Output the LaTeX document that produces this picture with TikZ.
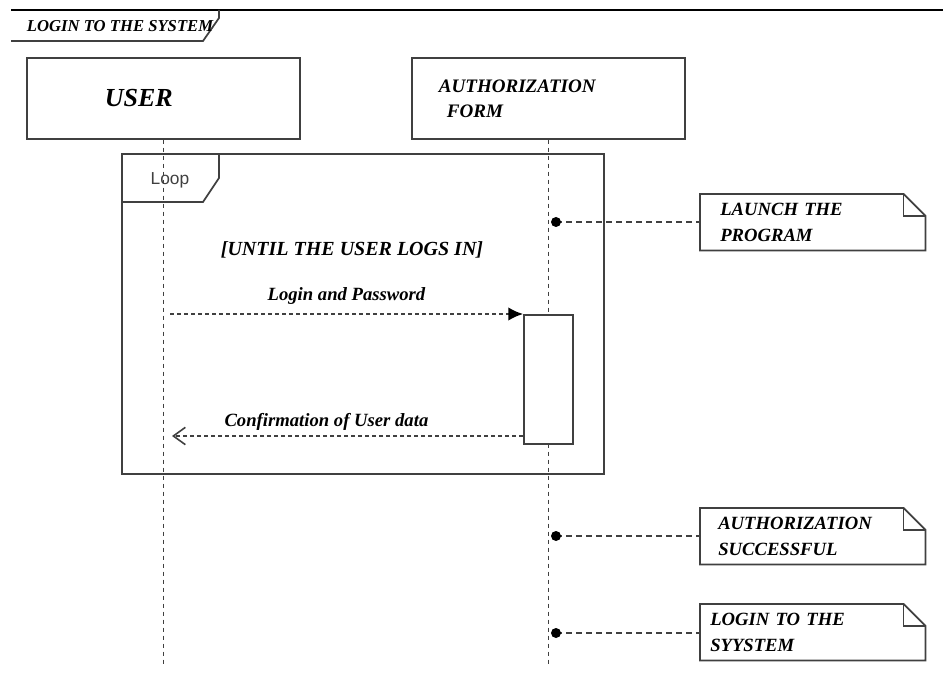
\documentclass[tikz,border=0pt]{standalone}
\usepackage{fontspec}
\setmainfont{Liberation Serif}
\setsansfont{Liberation Sans}
\usepackage{tikz}
\usetikzlibrary{arrows.meta,positioning,calc}

\tikzset{
    lifebox/.style={draw=black!75, line width=1.3pt, anchor=north west,
        minimum width=204.75pt, minimum height=60.75pt, align=left},
    notebox/.style={anchor=north west, minimum height=42pt, align=left,
        font=\bfseries\itshape\fontsize{14}{20}\selectfont},
    actbox/.style={draw=black!75, line width=1.3pt, fill=white, anchor=north west,
        minimum width=36.75pt, minimum height=96.75pt, inner sep=0pt},
    frameline/.style={draw=black!75, line width=1.3pt},
    noteline/.style={draw=black!75, line width=1.3pt},
    lifeline/.style={draw=black!75, line width=1.1pt, dash pattern=on 3.5pt off 2.5pt},
    msgline/.style={draw=black!75, line width=1.1pt, dash pattern=on 3pt off 2.25pt},
    noteconn/.style={draw=black!75, line width=1.2pt, dash pattern=on 4.5pt off 3pt},
    msgtext/.style={font=\bfseries\itshape\fontsize{14}{17}\selectfont}
}

\begin{document}
\begin{tikzpicture}[x=0.75pt, y=-0.75pt]
    \useasboundingbox (0,0) rectangle (943,695);

    % Define parameters of the lifelines
    \def\lifeend{667}
    \def\fold{16.5pt}

    % Draw frame of the diagram
    \draw[frameline, draw=black] (11,10) -- (943,10);
    \draw[frameline] (219,10) -- (219,18) -- (203,41) -- (11,41);
    \node[font=\bfseries\itshape\fontsize{12.5}{15}\selectfont] (title) at (120,26) {LOGIN TO THE SYSTEM};

    % Draw heads of the lifelines
    \node[lifebox, inner xsep=58.5pt, text width=87.75pt,
          font=\bfseries\itshape\fontsize{19.5}{22}\selectfont] (user) at (26,57) {USER};
    \node[lifebox, inner xsep=20.25pt, text width=164.25pt,
          font=\bfseries\itshape\fontsize{14.3}{18.75}\selectfont] (auth) at (411,57)
          {AUTHORIZATION\\\hspace*{6pt}FORM};

    % Draw lifelines
    \coordinate (userend) at (user.south |- 0,\lifeend);
    \coordinate (authend) at (auth.south |- 0,\lifeend);
    \draw[lifeline] (user.south) -- (userend);
    \draw[lifeline] (auth.south) -- (authend);

    % Draw loop fragment
    \draw[frameline] (122,154) rectangle (604,474);
    \draw[frameline] (219,154) -- (219,178) -- (203,202) -- (122,202);
    \node[font=\sffamily\fontsize{13}{15}\selectfont, text=black!75] (looplabel) at (170,180) {Loop};
    \node[msgtext, font=\bfseries\itshape\fontsize{15}{17}\selectfont] (guard) at (352,250) {[UNTIL THE USER LOGS IN]};

    % Draw activation of the form
    \node[actbox] (act) at (523,314) {};

    % Draw messages
    \coordinate (loginstart) at (170,314);
    \coordinate (confirmend) at (172,436);
    \draw[msgline, -{Latex[length=11pt, width=10pt, black]}] (loginstart) -- (act.north west)
          node[msgtext, midway, above=3pt, text=black] {Login and Password};
    \draw[msgline, -{Straight Barb[length=9pt, width=13pt, line width=1.2pt]}]
          (act.south west |- confirmend) -- (confirmend)
          node[msgtext, pos=0.56, above=0pt, text=black] {Confirmation of User data};

    % Draw notes
    \node[notebox, inner xsep=15pt, text width=138.75pt] (launch) at (700,194) {LAUNCH THE\\PROGRAM};
    \node[notebox, inner xsep=13.5pt, text width=141.75pt] (authok) at (700,508) {AUTHORIZATION\\SUCCESSFUL};
    \node[notebox, inner xsep=7.5pt, text width=153.75pt] (loginsys) at (700,604) {LOGIN TO THE\\SYYSTEM};
    \foreach \n in {launch,authok,loginsys} {
        \draw[noteline] (\n.north west) -- ([xshift=-\fold]\n.north east)
              -- ([yshift=-\fold]\n.north east) -- (\n.south east) -- (\n.south west) -- cycle;
        \draw[noteline] ([xshift=-\fold]\n.north east) |- ([yshift=-\fold]\n.north east);
    }

    % Draw points on the form lifeline
    \coordinate (launchdot) at (556,222);
    \coordinate (authokdot) at (556,536);
    \coordinate (loginsysdot) at (556,633);
    \foreach \n in {launch,authok,loginsys} {
        \draw[noteconn] (\n dot) -- (\n.west |- \n dot);
        \fill (\n dot) circle (3.75pt);
    }

\end{tikzpicture}
\end{document}
